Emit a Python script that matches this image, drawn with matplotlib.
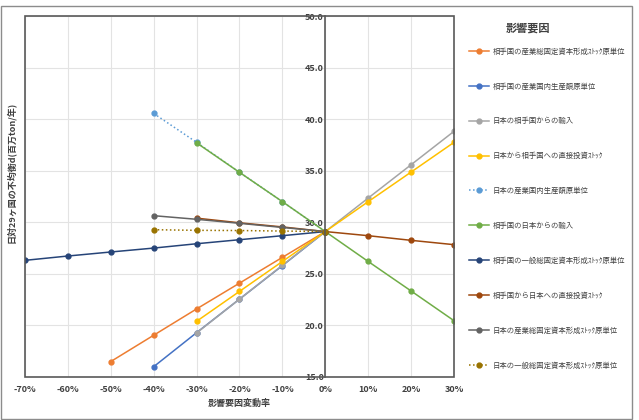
import numpy as np
import matplotlib
matplotlib.use("Agg")
import matplotlib.pyplot as plt
from matplotlib.patches import Rectangle
from matplotlib.ticker import FuncFormatter

plt.rcParams["font.family"] = ["Noto Sans CJK JP", "DejaVu Sans"]

nan = np.nan
x_vals = [-0.7, -0.6, -0.5, -0.4, -0.3, -0.2, -0.1, 0.0, 0.1, 0.2, 0.3]

labels = [
    "相手国の産業総固定資本形成ｽﾄｯｸ原単位",
    "相手国の産業国内生産額原単位",
    "日本の相手国からの輸入",
    "日本から相手国への直接投資ｽﾄｯｸ",
    "日本の産業国内生産額原単位",
    "相手国の日本からの輸入",
    "相手国の一般総固定資本形成ｽﾄｯｸ原単位",
    "相手国から日本への直接投資ｽﾄｯｸ",
    "日本の産業総固定資本形成ｽﾄｯｸ原単位",
    "日本の一般総固定資本形成ｽﾄｯｸ原単位",
]

partner_ind_capital = [nan, nan, 16.5, 19.05, 21.6, 24.1, 26.6, 29.1, nan, nan, nan]
partner_ind_output = [nan, nan, nan, 16.0, 19.3, 22.55, 25.8, 29.1, nan, nan, nan]
japan_imports = [nan, nan, nan, nan, 19.27, 22.55, 25.83, 29.1, 32.35, 35.58, 38.82]
japan_fdi_out = [nan, nan, nan, nan, 20.4, 23.3, 26.2, 29.1, 32.0, 34.87, 37.75]
japan_ind_output = [nan, nan, nan, 40.55, 37.75, 34.85, 32.0, 29.1, nan, nan, nan]
partner_imports = [nan, nan, nan, nan, 37.7, 34.84, 32.0, 29.1, 26.2, 23.34, 20.46]
partner_gen_capital = [26.31, 26.73, 27.12, 27.5, 27.92, 28.31, 28.7, 29.1, nan, nan, nan]
partner_fdi_out = [nan, nan, nan, nan, 30.4, 29.95, 29.55, 29.1, 28.7, 28.25, 27.83]
japan_ind_capital = [nan, nan, nan, 30.64, 30.29, 29.9, 29.5, 29.1, nan, nan, nan]
japan_gen_capital = [nan, nan, nan, 29.28, 29.22, 29.2, 29.15, 29.1, nan, nan, nan]

series = [partner_ind_capital, partner_ind_output, japan_imports, japan_fdi_out,
          japan_ind_output, partner_imports, partner_gen_capital, partner_fdi_out,
          japan_ind_capital, japan_gen_capital]
colors = ["#ED7D31", "#4472C4", "#A5A5A5", "#FFC000", "#5B9BD5",
          "#70AD47", "#264478", "#9E480E", "#636363", "#997300"]
styles = ["-", "-", "-", "-", ":", "-", "-", "-", "-", ":"]

W, H = 639, 420
fig = plt.figure(figsize=(W / 100, H / 100), dpi=100)
fig.patches.append(Rectangle((1 / W, 1 - 419 / H), 631 / W, 413 / H,
                             transform=fig.transFigure, fill=False,
                             ec="#8c8c8c", lw=1))

ax = fig.add_axes([25 / W, 1 - 377 / H, 429 / W, 361 / H])
for vals, c, ls, lab in zip(series, colors, styles, labels):
    ax.plot(x_vals, vals, color=c, ls=ls, lw=1.1, marker="o", ms=3.5,
            mfc=c, mec=c, label=lab)

ax.set_xlim(-0.7, 0.3)
ax.set_ylim(15, 50)
ax.set_xticks(np.arange(-0.7, 0.31, 0.1))
ax.set_yticks(np.arange(15, 50.1, 5))
ax.xaxis.set_major_formatter(FuncFormatter(lambda v, p: f"{round(v * 100):d}%"))
ax.yaxis.set_major_formatter(FuncFormatter(lambda v, p: f"{v:.1f}"))
ax.grid(True, color="#e3e3e3", lw=0.8)
ax.set_axisbelow(True)

for s in ["top", "right", "bottom"]:
    ax.spines[s].set_visible(False)
ax.spines["left"].set_position(("data", 0))
ax.spines["left"].set_color("#595959")
ax.spines["left"].set_linewidth(1.2)
ax.add_patch(Rectangle((0, 0), 1, 1, transform=ax.transAxes, fill=False,
                       ec="#595959", lw=1.2, clip_on=False, zorder=5))

ax.tick_params(axis="both", length=0, labelsize=6.5, labelcolor="#404040")
ax.tick_params(axis="x", pad=6)
ax.tick_params(axis="y", pad=1)
for t in ax.get_xticklabels() + ax.get_yticklabels():
    t.set_fontweight("bold")

fig.text(239 / W, 1 - 403 / H, "影響要因変動率", ha="center", va="center",
         fontsize=6.5, color="#404040", fontweight="bold")
fig.text(11 / W, 1 - 172 / H, "日対29ヶ国の不均衡d(百万ton/年)", ha="center",
         va="center", rotation=90, fontsize=6.5, color="#404040",
         fontweight="bold")

# legend title drawn separately so it sits centred over the entries
fig.text(528 / W, 1 - 28 / H, "影響要因", ha="center", va="center",
         fontsize=8, fontweight="bold", color="#404040")
leg = fig.legend(loc="center left", bbox_to_anchor=(462 / W, 1 - 208.5 / H),
                 frameon=False, fontsize=5.3, labelspacing=3.65,
                 handlelength=2.7, handletextpad=0.6)
for t in leg.get_texts():
    t.set_color("#404040")

fig.savefig("out.png", dpi=100)
